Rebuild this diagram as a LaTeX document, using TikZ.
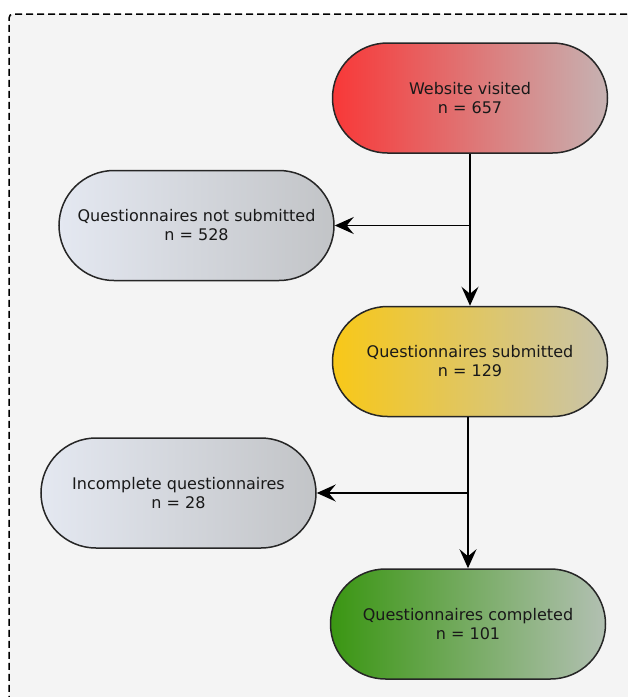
\documentclass[tikz,border=0pt]{standalone}
\usepackage{fontspec}
\setmainfont{DejaVu Sans}
\usepackage{xcolor}
\usepackage{tikz}
\usetikzlibrary{arrows.meta, positioning}

\definecolor{panelgray}{RGB}{244,244,244}
\definecolor{redL}{RGB}{248,56,56}
\definecolor{redR}{RGB}{198,178,178}
\definecolor{grayL}{RGB}{228,232,241}
\definecolor{grayR}{RGB}{194,196,199}
\definecolor{yellowL}{RGB}{248,200,24}
\definecolor{yellowR}{RGB}{200,196,172}
\definecolor{greenL}{RGB}{58,150,18}
\definecolor{greenR}{RGB}{178,192,178}

\begin{document}
\begin{tikzpicture}[
    x=1pt, y=1pt,
    stage/.style={rectangle, draw=black!85, line width=1.5pt, rounded corners=55pt, minimum width=275pt, minimum height=110pt, align=center, font=\fontsize{16}{19}\selectfont, text=black!90, inner sep=0pt},
    visitednode/.style={stage, left color=redL, right color=redR},
    dropnode/.style={stage, left color=grayL, right color=grayR},
    submitnode/.style={stage, left color=yellowL, right color=yellowR},
    donenode/.style={stage, left color=greenL, right color=greenR},
    arrow/.style={line width=1.4pt, -{Stealth[length=19pt, width=17pt, inset=7pt]}},
]

% Canvas
\useasboundingbox (0,0) rectangle (628,-697);
\fill[white] (0,0) rectangle (628,-697);
\draw[panelgray, fill=panelgray] (9,-14) rectangle (660,-730);
\draw[dash pattern=on 7pt off 4pt, line width=1.5pt, rounded corners=4pt] (660,-14) -- (9,-14) -- (9,-730);

% Main flow
\node[visitednode] (visited) at (470,-98) {Website visited\\n = 657};
\node[submitnode, below=152pt of visited] (submitted) {Questionnaires submitted\\n = 129};
\node[donenode, below=151pt of submitted, xshift=-2pt] (completed) {Questionnaires completed\\n = 101};

% Exclusions
\node[dropnode, below left=16pt and -3pt of visited] (notsubmitted) {Questionnaires not submitted\\n = 528};
\node[dropnode, below left=20pt and 15pt of submitted] (incomplete) {Incomplete questionnaires\\n = 28};

% Split points
\coordinate (split1) at (visited.south |- notsubmitted.east);
\coordinate (split2) at (completed.north |- incomplete.east);

% Arrows
\draw[arrow] (visited.south) -- (submitted.north);
\draw[arrow] (split1) -- (notsubmitted.east);
\draw[arrow] (submitted.south -| completed.north) -- (completed.north);
\draw[arrow] (split2) -- (incomplete.east);

\end{tikzpicture}
\end{document}
